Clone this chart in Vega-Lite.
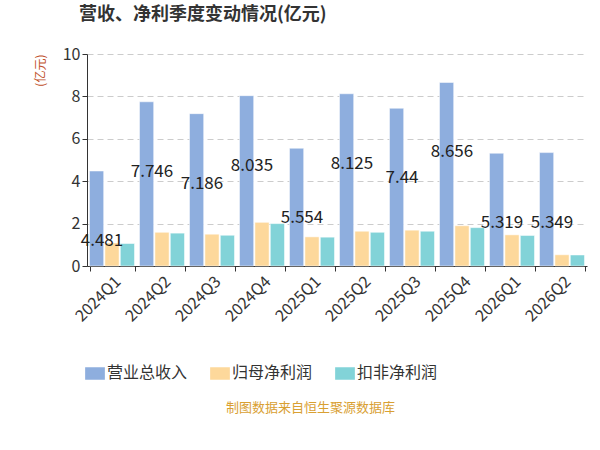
{"$schema":"https://vega.github.io/schema/vega-lite/v6.json","padding":{"left":34,"right":8,"top":6,"bottom":4},
"title":{"text":"制图数据来自恒生聚源数据库","orient":"bottom","fontSize":13,"font":"Noto Sans CJK SC","fontWeight":"normal","color":"#d9a032","anchor":"middle","offset":18},
"config":{"view":{"stroke":null},"font":"Noto Sans CJK SC"},
"vconcat":[{"width":500,"height":212,
"title":{"text":"营收、净利季度变动情况(亿元)","fontSize":18,"font":"Noto Sans CJK SC","fontWeight":"bold","color":"#333","anchor":"start","dx":45,"offset":22},
"data":{"values":[
{"q":"2024Q1","s":"营业总收入","v":4.481},{"q":"2024Q1","s":"归母净利润","v":1.09},{"q":"2024Q1","s":"扣非净利润","v":1.06},
{"q":"2024Q2","s":"营业总收入","v":7.746},{"q":"2024Q2","s":"归母净利润","v":1.59},{"q":"2024Q2","s":"扣非净利润","v":1.55},
{"q":"2024Q3","s":"营业总收入","v":7.186},{"q":"2024Q3","s":"归母净利润","v":1.5},{"q":"2024Q3","s":"扣非净利润","v":1.45},
{"q":"2024Q4","s":"营业总收入","v":8.035},{"q":"2024Q4","s":"归母净利润","v":2.06},{"q":"2024Q4","s":"扣非净利润","v":2.0},
{"q":"2025Q1","s":"营业总收入","v":5.554},{"q":"2025Q1","s":"归母净利润","v":1.375},{"q":"2025Q1","s":"扣非净利润","v":1.36},
{"q":"2025Q2","s":"营业总收入","v":8.125},{"q":"2025Q2","s":"归母净利润","v":1.64},{"q":"2025Q2","s":"扣非净利润","v":1.59},
{"q":"2025Q3","s":"营业总收入","v":7.44},{"q":"2025Q3","s":"归母净利润","v":1.69},{"q":"2025Q3","s":"扣非净利润","v":1.64},
{"q":"2025Q4","s":"营业总收入","v":8.656},{"q":"2025Q4","s":"归母净利润","v":1.9},{"q":"2025Q4","s":"扣非净利润","v":1.81},
{"q":"2026Q1","s":"营业总收入","v":5.319},{"q":"2026Q1","s":"归母净利润","v":1.47},{"q":"2026Q1","s":"扣非净利润","v":1.44},
{"q":"2026Q2","s":"营业总收入","v":5.349},{"q":"2026Q2","s":"归母净利润","v":0.53},{"q":"2026Q2","s":"扣非净利润","v":0.52}]},
"encoding":{"x":{"field":"q","type":"nominal","scale":{"paddingInner":0.1,"paddingOuter":0.05},"axis":{"title":null,"labelAngle":-45,"labelFontSize":16,"labelColor":"#333","domainColor":"#333","tickColor":"#333","tickBand":"extent"}},
"y":{"field":"v","type":"quantitative","scale":{"domain":[0,10]},"axis":{"title":"(亿元)","titleColor":"#c0502a","titleFontWeight":"normal","titleFontSize":12,"titleAngle":-90,"titleAnchor":"end","titleX":-40,"titleY":0,"tickCount":5,"labelFontSize":16,"labelColor":"#333","domain":true,"domainColor":"#333","ticks":true,"tickColor":"#333","gridDash":[6,4],"gridColor":"#ccc"}}},
"layer":[
{"mark":{"type":"bar","stroke":"white","strokeWidth":0.5},"encoding":{"xOffset":{"field":"s","sort":["营业总收入","归母净利润","扣非净利润"],"scale":{"paddingInner":0.08}},
"color":{"field":"s","sort":["营业总收入","归母净利润","扣非净利润"],"scale":{"range":["#8eaede","#fdd89b","#82d3d8"]},"legend":{"title":null,"orient":"bottom","symbolType":"M-1.5,-1 h3 v2 h-3 Z","symbolSize":200,"labelFontSize":16,"labelColor":"#333","columnPadding":18,"offset":40}}}},
{"transform":[{"filter":"datum.s==='营业总收入'"}],"mark":{"type":"text","fontSize":17,"color":"#222","baseline":"top","dy":62,"dx":-10},"encoding":{"text":{"field":"v"}}}
]}]}
